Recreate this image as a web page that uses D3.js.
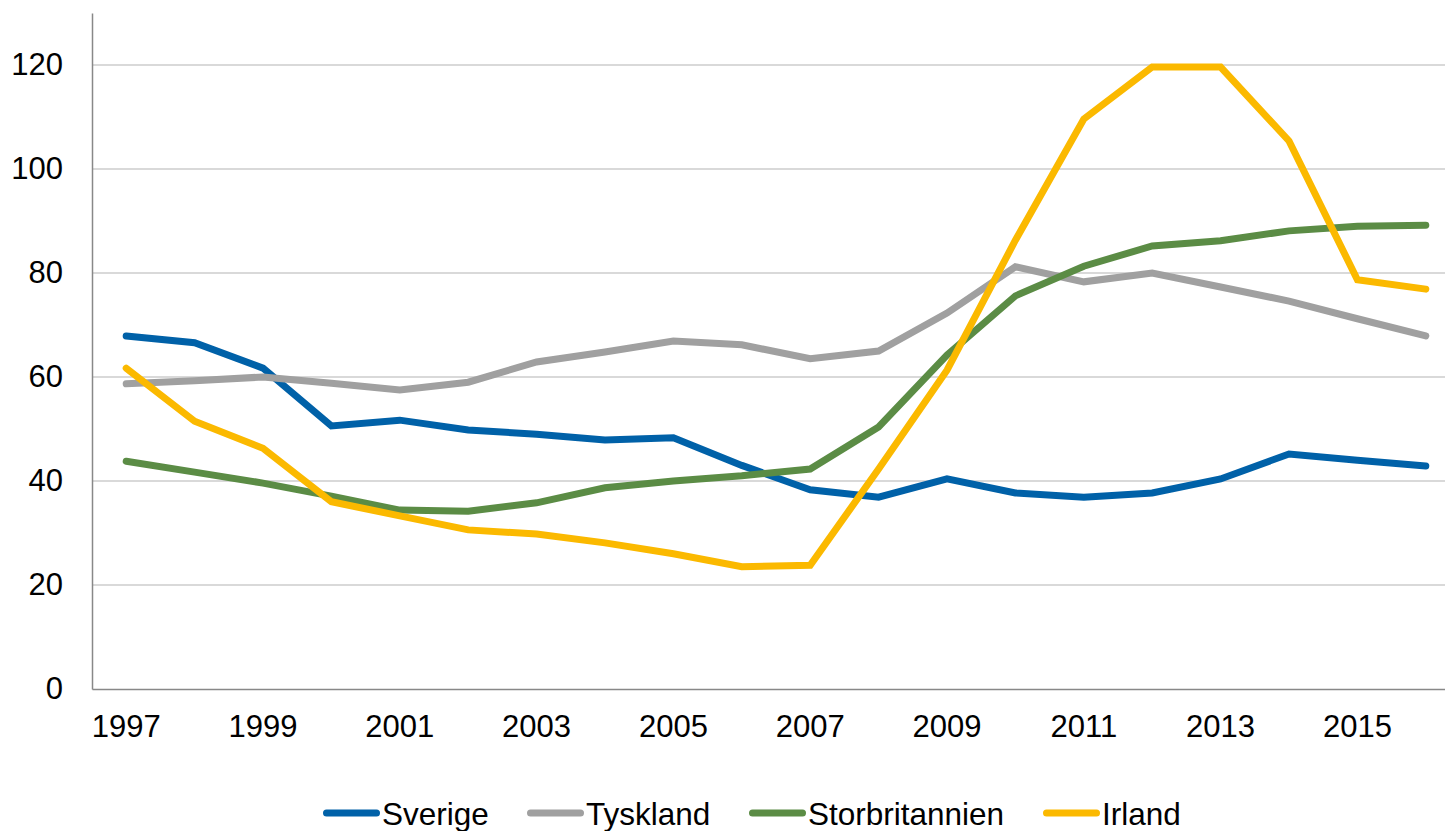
<!DOCTYPE html>
<html>
<head>
<meta charset="utf-8">
<script src="https://cdn.jsdelivr.net/npm/d3@7"></script>
<style>
  body { margin: 0; background: #fff; overflow: hidden; }
  svg text { font-family: "Liberation Sans", Arial, sans-serif; fill: #000; }
</style>
</head>
<body>
<div id="chart"></div>
<script>
// data
const years = ["1997","1998","1999","2000","2001","2002","2003","2004","2005","2006",
               "2007","2008","2009","2010","2011","2012","2013","2014","2015","2016"];
const sverige = [67.9,66.6,61.7,50.6,51.7,49.8,49.0,47.9,48.3,43.0,38.3,36.9,40.4,37.7,36.9,37.7,40.4,45.2,44.0,42.9];
const tyskland = [58.7,59.3,60.0,58.8,57.5,59.0,62.9,64.8,66.9,66.2,63.5,65.0,72.3,81.2,78.3,80.0,77.3,74.6,71.2,67.9];
const storbritannien = [43.8,41.7,39.6,37.1,34.4,34.2,35.8,38.7,40.0,41.0,42.3,50.4,64.2,75.6,81.3,85.2,86.2,88.1,89.0,89.2];
const irland = [61.7,51.5,46.3,36.0,33.3,30.6,29.8,28.1,26.0,23.5,23.8,42.3,61.3,86.3,109.6,119.6,119.6,105.4,78.7,76.9];
const yTicks = [0,20,40,60,80,100,120];

const series = [
  {name:"Sverige", values:sverige, color:"#0061a8"},
  {name:"Tyskland", values:tyskland, color:"#a0a0a0"},
  {name:"Storbritannien", values:storbritannien, color:"#5b8c45"},
  {name:"Irland", values:irland, color:"#fbb900"}
];

const w = 1445, h = 831;
const padLeft = 92, padRight = 1460, padTop = 13, padBottom = 689;

const svg = d3.select("#chart").append("svg")
    .attr("width", w)
    .attr("height", h);

// the plot runs a bit past the right edge of the picture
const xScale = d3.scaleBand().domain(years).range([padLeft, padRight]);
const yScale = d3.scaleLinear().domain([0,130]).range([padBottom, padTop]);

// gridlines
svg.append("g")
    .selectAll("line")
    .data(yTicks.filter(d => d > 0))
    .enter()
    .append("line")
    .attr("x1", padLeft)
    .attr("x2", w)
    .attr("y1", d => yScale(d))
    .attr("y2", d => yScale(d))
    .style("stroke", "#cccccc")
    .style("stroke-width", "1.3px");

// y axis
const yAxis = d3.axisLeft(yScale).tickValues(yTicks).tickSize(0).tickPadding(29);
const gy = svg.append("g")
    .attr("transform", "translate(" + padLeft + ",0)")
    .call(yAxis);
gy.select(".domain").style("stroke", "#888").style("stroke-width", "1.5px");
gy.selectAll("text").style("font-size", "31px").style("font-family", "Liberation Sans, Arial, sans-serif");

// x axis, label every second year
const xAxis = d3.axisBottom(xScale)
    .tickValues(years.filter((d,i) => i % 2 == 0))
    .tickSize(0)
    .tickPadding(26);
const gx = svg.append("g")
    .attr("transform", "translate(0," + padBottom + ")")
    .call(xAxis);
gx.select(".domain").style("stroke", "#888").style("stroke-width", "1.5px");
gx.selectAll("text").style("font-size", "31px").style("font-family", "Liberation Sans, Arial, sans-serif");

// lines
const line = d3.line()
    .x((d,i) => xScale(years[i]) + xScale.bandwidth()/2)
    .y(d => yScale(d));

svg.selectAll(".series")
    .data(series)
    .enter()
    .append("path")
    .attr("class", "series")
    .attr("d", d => line(d.values))
    .style("fill", "none")
    .style("stroke", d => d.color)
    .style("stroke-width", "7px")
    .style("stroke-linecap", "round")
    .style("stroke-linejoin", "miter");

// legend
const legendX = [323, 527, 749, 1043];
const legend = svg.append("g");
series.forEach((s, i) => {
    legend.append("line")
        .attr("x1", legendX[i] + 3.5)
        .attr("x2", legendX[i] + 53.5)
        .attr("y1", 813)
        .attr("y2", 813)
        .style("stroke", s.color)
        .style("stroke-width", "7px")
        .style("stroke-linecap", "round");
    legend.append("text")
        .attr("x", legendX[i] + 59)
        .attr("y", 825)
        .style("font-size", "31.5px")
        .text(s.name);
});
</script>
</body>
</html>
